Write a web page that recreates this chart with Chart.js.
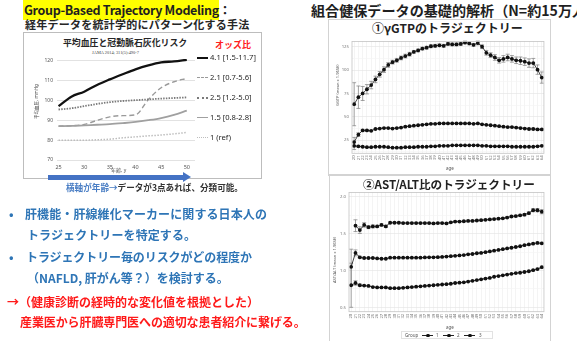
<!DOCTYPE html>
<html>
<head>
<meta charset="utf-8">
<script src="https://cdn.jsdelivr.net/npm/chart.js@4.4.1/dist/chart.umd.min.js"></script>
<style>
  html, body { margin: 0; padding: 0; }
  body { width: 577px; height: 341px; background: #fff; overflow: hidden; position: relative;
         font-family: "Noto Sans CJK JP", "Noto Sans", sans-serif; }
  .t { position: absolute; white-space: nowrap; line-height: 1; font-weight: bold; }
  .s { position: absolute; white-space: nowrap; line-height: 1; color: #555; font-family: "Noto Sans", "Noto Sans CJK JP", sans-serif; }
  .box { position: absolute; border: 1px solid #c9c9c9; box-sizing: border-box; }
  canvas { position: absolute; }
  .lg { position: absolute; height: 0; }
  .blue { color: #2e75b6; }
  .red { color: #ff1a1a; }
</style>
</head>
<body>

<!-- left: method heading -->
<div class="t" style="left:23px;top:4px;font-size:12.5px;color:#1f1f1f;">
  <span style="background:#ffff00;padding:1px 0 1px 1px;letter-spacing:-0.35px;">Group-Based Trajectory Modeling</span><span>：</span>
</div>
<div class="t" style="left:25px;top:19px;font-size:11px;letter-spacing:0.25px;color:#262626;">経年データを統計学的にパターン化する手法</div>

<!-- left: blood pressure figure frame -->
<div class="box" style="left:23px;top:32px;width:239px;height:147px;border-color:#bdbdbd;"></div>
<div class="t" style="left:63px;top:38.5px;font-size:8.9px;color:#262626;">平均血圧と冠動脈石灰化リスク</div>
<div class="s" style="left:92px;top:51px;font-size:4.4px;color:#444;font-family:'Liberation Serif',serif;">JAMA 2014; 311(5):490-7</div>
<div class="t" style="left:215px;top:40px;font-size:9px;color:#ff2020;">オッズ比</div>
<canvas id="bp" width="175" height="143" style="left:23px;top:32px;"></canvas>
<div class="s" style="left:34px;top:119px;font-size:4.5px;transform:rotate(-90deg);transform-origin:0 0;">平均血圧, mmHg</div>
<div class="s" style="left:111px;top:168px;font-size:5px;">年齢, y</div>

<!-- odds-ratio key -->
<div class="lg" style="left:197px;top:57px;width:11px;border-top:2.2px solid #111;"></div>
<div class="s" style="left:210px;top:54px;font-size:7.6px;color:#262626;">4.1 [1.5-11.7]</div>
<div class="lg" style="left:197px;top:77px;width:11px;border-top:1.5px dashed #9a9a9a;"></div>
<div class="s" style="left:210px;top:74px;font-size:7.6px;color:#262626;">2.1 [0.7-5.6]</div>
<div class="lg" style="left:197px;top:97px;width:11px;border-top:2px dotted #7a7a7a;"></div>
<div class="s" style="left:210px;top:94px;font-size:7.6px;color:#262626;">2.5 [1.2-5.0]</div>
<div class="lg" style="left:197px;top:117px;width:11px;border-top:1.8px solid #a0a0a0;"></div>
<div class="s" style="left:210px;top:114px;font-size:7.6px;color:#262626;">1.5 [0.8-2.8]</div>
<div class="lg" style="left:197px;top:137px;width:11px;border-top:1.5px dotted #bdbdbd;"></div>
<div class="s" style="left:210px;top:134px;font-size:7.6px;color:#262626;">1  (ref)</div>

<!-- age arrow -->
<div style="position:absolute;left:48px;top:174.5px;width:136px;height:5px;background:#4472c4;"></div>
<div style="position:absolute;left:183px;top:172px;width:0;height:0;border-top:5px solid transparent;border-bottom:5px solid transparent;border-left:8px solid #4472c4;"></div>
<div class="t" style="left:66px;top:183px;font-size:8.6px;color:#333;"><span style="color:#4a7ec4;">横軸が年齢→</span>データが3点あれば、分類可能。</div>

<!-- left: aims -->
<div class="t blue" style="left:9px;top:207.5px;font-size:12px;">•</div>
<div class="t blue" style="left:25px;top:207.5px;font-size:12px;letter-spacing:0.1px;">肝機能・肝線維化マーカーに関する日本人の</div>
<div class="t blue" style="left:27px;top:228.5px;font-size:12px;letter-spacing:0.1px;">トラジェクトリーを特定する。</div>
<div class="t blue" style="left:9px;top:250.5px;font-size:12px;">•</div>
<div class="t blue" style="left:26px;top:250.5px;font-size:12px;letter-spacing:-0.1px;">トラジェクトリー毎のリスクがどの程度か</div>
<div class="t blue" style="left:27px;top:271.5px;font-size:12px;">（NAFLD, 肝がん等？）を検討する。</div>
<div class="t red" style="left:7px;top:295.5px;font-size:12px;">→（健康診断の経時的な変化値を根拠とした）</div>
<div class="t red" style="left:20px;top:315.5px;font-size:12px;letter-spacing:-0.1px;">産業医から肝臓専門医への適切な患者紹介に繋げる。</div>

<!-- right: heading -->
<div class="t" style="left:311px;top:3px;font-size:14.1px;color:#1f1f1f;">組合健保データの基礎的解析（N=約15万人）</div>

<!-- right: γGTP panel -->
<div class="box" style="left:328px;top:19px;width:223px;height:157px;border-color:#d3d3d3;"></div>
<div class="t" style="left:372px;top:21.5px;font-size:12px;color:#222;">①γGTPのトラジェクトリー</div>
<canvas id="gtp" width="218" height="138" style="left:331px;top:36px;"></canvas>
<div class="s" style="left:336px;top:106px;font-size:4px;transform:rotate(-90deg);transform-origin:0 0;">GGTP (mean ± 1.96SE)</div>
<div class="s" style="left:446px;top:166px;font-size:4.5px;">age</div>

<!-- right: AST/ALT panel -->
<div class="box" style="left:329px;top:174px;width:222px;height:170px;border-color:#d3d3d3;"></div>
<div class="t" style="left:363px;top:179px;font-size:11.6px;color:#222;">②AST/ALT比のトラジェクトリー</div>
<canvas id="ast" width="218" height="137" style="left:331px;top:187px;"></canvas>
<div class="s" style="left:333px;top:283px;font-size:4px;transform:rotate(-90deg);transform-origin:0 0;">AST/ALT (mean ± 1.96SE)</div>
<div class="s" style="left:446px;top:325px;font-size:4.5px;">age</div>

<!-- group key -->
<div class="box" style="left:401px;top:331px;width:92px;height:8px;border-color:#e2e2e2;"></div>
<div class="s" style="left:405px;top:333px;font-size:4.5px;">Group</div>
<div class="lg" style="left:422px;top:335px;width:11px;border-top:0.8px solid #222;"></div>
<div style="position:absolute;left:426px;top:333.5px;width:3.5px;height:3.5px;border-radius:50%;background:#111;"></div>
<div class="s" style="left:436px;top:333px;font-size:4.5px;">1</div>
<div class="lg" style="left:443px;top:335px;width:11px;border-top:0.8px solid #222;"></div>
<div style="position:absolute;left:447px;top:333.5px;width:3.5px;height:3.5px;border-radius:50%;background:#111;"></div>
<div class="s" style="left:457px;top:333px;font-size:4.5px;">2</div>
<div class="lg" style="left:464px;top:335px;width:11px;border-top:0.8px solid #222;"></div>
<div style="position:absolute;left:468px;top:333.5px;width:3.5px;height:3.5px;border-radius:50%;background:#111;"></div>
<div class="s" style="left:479px;top:333px;font-size:4.5px;">3</div>

<script>
// ---- mean blood pressure trajectories by age (JAMA 2014) ----
const bpAges = [25, 27.5, 30, 32.5, 35, 37.5, 40, 42.5, 45, 47.5, 50];
const bpAgeTicks = [25, 30, 35, 40, 45, 50];
const bpTicks = [70, 80, 90, 100, 110, 120];
const bpHighRising = [97.2, 102.0, 104.5, 107.9, 110.7, 113.3, 115.8, 117.8, 119.3, 119.8, 120.6];
const bpLateRising = [87.1, 87.3, 88.0, 90.0, 91.8, 92.4, 92.8, 100.5, 106.5, 109.5, 111.2];
const bpHighStable = [95.5, 96.1, 97.2, 98.3, 99.2, 99.8, 100.2, 100.6, 101.0, 101.3, 101.6];
const bpModerate   = [87.1, 87.2, 87.5, 87.8, 88.1, 88.6, 89.2, 90.1, 91.2, 92.8, 94.9];
const bpLowStable  = [80.0, 80.0, 80.0, 80.2, 80.5, 81.2, 81.7, 82.2, 82.6, 83.2, 83.9];

// ---- health-insurance cohort: age categories ----
const ageLabels = ['20','21','22','23','24','25','26','27','28','29','30','31','32','33','34',
  '35','36','37','38','39','40','41','42','43','44','45','46','47','48','49',
  '50','51','52','53','54','55','56','57','58','59','60','61','62','63','64'];

// γGTP mean by group, with 1.96 SE half-widths
const gtpTicks = [25, 50, 75, 100, 125];
const gtpGroup1 = [19, 18.5, 18, 17.5, 17.5, 18, 18, 18, 17.5, 17, 17, 17, 17.5, 17.5, 17.5,
  18, 18, 18, 18.5, 18.5, 19, 19, 19, 19.5, 19.5, 19.5, 19.5, 19.5, 19.5, 19.5,
  19, 19, 18.5, 18.5, 18.5, 18.5, 18.5, 18, 18, 18, 18, 18, 18, 18.5, 19];
const gtpErr1 = [4, 1, 0.6, 0.4, 0.3, 0.3, 0.3, 0.3, 0.3, 0.3, 0.3, 0.3, 0.3, 0.3, 0.3,
  0.3, 0.3, 0.3, 0.3, 0.3, 0.3, 0.3, 0.3, 0.3, 0.3, 0.3, 0.3, 0.3, 0.3, 0.3,
  0.3, 0.3, 0.3, 0.3, 0.3, 0.3, 0.3, 0.3, 0.3, 0.3, 0.4, 0.4, 0.4, 0.5, 0.6];
const gtpGroup2 = [23, 31, 35.5, 35.5, 35, 37, 37.5, 38, 38, 37.5, 38, 38.5, 39.5, 40, 40.5,
  41, 41.5, 42, 42.5, 42.5, 43, 43, 43, 43, 43, 43, 43, 43, 42.5, 43,
  42, 41.5, 41, 40.5, 40, 39.5, 39, 39, 38.5, 38, 37.5, 37, 37, 36.5, 36.5];
const gtpErr2 = [5, 2, 1, 0.8, 0.6, 0.5, 0.5, 0.5, 0.5, 0.5, 0.5, 0.5, 0.5, 0.5, 0.5,
  0.5, 0.5, 0.5, 0.5, 0.5, 0.5, 0.5, 0.5, 0.5, 0.5, 0.5, 0.5, 0.5, 0.5, 0.5,
  0.5, 0.5, 0.5, 0.5, 0.5, 0.5, 0.6, 0.6, 0.6, 0.7, 0.7, 0.8, 0.8, 0.9, 1];
const gtpGroup3 = [63.5, 71, 75, 79.5, 84, 90, 95.5, 100.5, 105.5, 108.5, 110.5, 113, 115, 117, 119.5,
  121, 123, 124, 125.5, 126, 126.5, 126, 128, 127.5, 127.5, 128, 129.5, 128.5, 127, 129,
  125, 118.5, 116, 113.5, 110.5, 112, 113.5, 112, 110.5, 110, 109, 107.5, 107.5, 100.5, 92];
const gtpErr3 = [23, 12, 7.5, 5, 4, 3.5, 3, 3, 2.5, 2, 2, 2, 2, 2, 1.5,
  1.5, 1.5, 1.5, 1.5, 1.5, 1.5, 1.5, 1.5, 1.5, 1.5, 1.5, 1.5, 1.5, 1.5, 2,
  2, 2.5, 2.5, 3, 3, 3.5, 3.5, 3.5, 3.5, 4, 4, 4.5, 5, 5, 6];

// AST/ALT ratio mean by group, with 1.96 SE half-widths
const astTicks = [0.5, 1.0, 1.5, 2.0];
const astGroup1 = [0.80, 0.83, 0.80, 0.795, 0.79, 0.775, 0.77, 0.77, 0.77, 0.76, 0.76, 0.76, 0.765, 0.77, 0.775,
  0.78, 0.785, 0.79, 0.795, 0.80, 0.805, 0.81, 0.815, 0.82, 0.83, 0.835, 0.84, 0.85, 0.86, 0.87,
  0.88, 0.89, 0.90, 0.915, 0.925, 0.935, 0.945, 0.955, 0.965, 0.97, 0.98, 0.99, 1.005, 1.02, 1.045];
const astErr1 = [0.30, 0.03, 0.015, 0.01, 0.008, 0.006, 0.005, 0.005, 0.005, 0.005, 0.005, 0.005, 0.005, 0.005, 0.005,
  0.005, 0.005, 0.005, 0.005, 0.005, 0.005, 0.005, 0.005, 0.005, 0.005, 0.005, 0.005, 0.005, 0.005, 0.005,
  0.005, 0.005, 0.005, 0.005, 0.005, 0.005, 0.005, 0.005, 0.006, 0.006, 0.007, 0.008, 0.009, 0.01, 0.012];
const astGroup2 = [1.05, 1.24, 1.18, 1.17, 1.17, 1.17, 1.165, 1.16, 1.16, 1.175, 1.175, 1.175, 1.175, 1.175, 1.175,
  1.175, 1.175, 1.178, 1.18, 1.18, 1.182, 1.185, 1.19, 1.195, 1.20, 1.205, 1.21, 1.22, 1.225, 1.235,
  1.24, 1.25, 1.26, 1.27, 1.28, 1.29, 1.30, 1.31, 1.32, 1.33, 1.345, 1.355, 1.365, 1.375, 1.37];
const astErr2 = [0.24, 0.04, 0.015, 0.01, 0.008, 0.006, 0.005, 0.005, 0.005, 0.005, 0.005, 0.005, 0.005, 0.005, 0.005,
  0.005, 0.005, 0.005, 0.005, 0.005, 0.005, 0.005, 0.005, 0.005, 0.005, 0.005, 0.005, 0.005, 0.005, 0.005,
  0.005, 0.005, 0.005, 0.005, 0.005, 0.005, 0.005, 0.006, 0.006, 0.007, 0.008, 0.009, 0.01, 0.012, 0.014];
const astGroup3 = [null, 1.61, 1.55, 1.62, 1.59, 1.60, 1.60, 1.62, 1.60, 1.65, 1.65, 1.65, 1.645, 1.645, 1.645,
  1.645, 1.645, 1.645, 1.645, 1.64, 1.645, 1.645, 1.64, 1.655, 1.665, 1.665, 1.67, 1.675, 1.675, 1.68,
  1.685, 1.69, 1.695, 1.70, 1.705, 1.71, 1.72, 1.735, 1.74, 1.75, 1.76, 1.78, 1.82, 1.82, 1.80];
const astErr3 = [0, 0.08, 0.045, 0.03, 0.02, 0.02, 0.015, 0.015, 0.015, 0.012, 0.01, 0.01, 0.01, 0.01, 0.01,
  0.01, 0.01, 0.01, 0.01, 0.01, 0.01, 0.01, 0.01, 0.01, 0.01, 0.01, 0.01, 0.01, 0.01, 0.01,
  0.01, 0.01, 0.01, 0.01, 0.01, 0.01, 0.012, 0.012, 0.012, 0.014, 0.015, 0.016, 0.02, 0.022, 0.028];

// error bars drawn under the points, through the y scale
const errorBars = {
  id: 'errorBars',
  beforeDatasetsDraw(chart) {
    const { ctx } = chart;
    const ys = chart.scales.y;
    chart.data.datasets.forEach((ds, i) => {
      if (!ds.errors) return;
      const meta = chart.getDatasetMeta(i);
      ctx.save();
      ctx.strokeStyle = '#7d7d7d';
      ctx.lineWidth = 0.7;
      meta.data.forEach((pt, j) => {
        const v = ds.data[j], e = ds.errors[j];
        if (v == null || !e) return;
        const top = ys.getPixelForValue(v + e);
        const bot = ys.getPixelForValue(v - e);
        const x = pt.x;
        ctx.beginPath();
        ctx.moveTo(x, top); ctx.lineTo(x, bot);
        ctx.moveTo(x - 2, top); ctx.lineTo(x + 2, top);
        ctx.moveTo(x - 2, bot); ctx.lineTo(x + 2, bot);
        ctx.stroke();
      });
      ctx.restore();
    });
  }
};

// thin frame round the plotting panel
const panelFrame = {
  id: 'panelFrame',
  afterDraw(chart) {
    const { ctx, chartArea: a } = chart;
    ctx.save();
    ctx.strokeStyle = '#c4c4c4';
    ctx.lineWidth = 0.8;
    ctx.strokeRect(a.left, a.top, a.right - a.left, a.bottom - a.top);
    ctx.restore();
  }
};

const pairs = (xs, ys) => xs.map((x, i) => ({ x, y: ys[i] }));

// mean blood pressure chart
new Chart(document.getElementById('bp'), {
  type: 'line',
  data: {
    datasets: [
      { data: pairs(bpAges, bpLowStable), borderColor: '#bdbdbd', borderWidth: 1.5, borderDash: [1.5, 1.5] },
      { data: pairs(bpAges, bpModerate), borderColor: '#a0a0a0', borderWidth: 1.8 },
      { data: pairs(bpAges, bpHighStable), borderColor: '#7a7a7a', borderWidth: 1.8, borderDash: [1.5, 1.2] },
      { data: pairs(bpAges, bpLateRising), borderColor: '#9a9a9a', borderWidth: 1.4, borderDash: [5, 3] },
      { data: pairs(bpAges, bpHighRising), borderColor: '#111', borderWidth: 2.3 }
    ]
  },
  options: {
    responsive: false, animation: false, events: [],
    layout: { padding: { top: 27, right: 3, left: 0, bottom: 0 } },
    elements: { point: { radius: 0 }, line: { cubicInterpolationMode: 'monotone' } },
    plugins: { legend: { display: false }, tooltip: { enabled: false } },
    scales: {
      x: {
        type: 'linear', min: 24.7, max: 51.6,
        afterBuildTicks: s => { s.ticks = bpAgeTicks.map(v => ({ value: v })); },
        afterFit: s => { s.height = 15; },
        grid: { display: false, drawTicks: false }, border: { display: false },
        ticks: { color: '#555', font: { size: 5.5, family: 'Noto Sans' }, padding: 4, maxRotation: 0 }
      },
      y: {
        min: 70, max: 121,
        afterBuildTicks: s => { s.ticks = bpTicks.map(v => ({ value: v })); },
        afterFit: s => { s.width = 34; },
        grid: { color: '#dadada', lineWidth: 0.8, drawTicks: false }, border: { display: false },
        ticks: { color: '#555', font: { size: 5, family: 'Noto Sans' }, padding: 4 }
      }
    }
  }
});

function trajectoryChart(id, groups, errs, yMin, yMax, majors, yWidth, xHeight, fmt) {
  const minors = [];
  for (let i = 0; i < majors.length; i++) {
    minors.push(majors[i]);
    if (i < majors.length - 1) minors.push((majors[i] + majors[i + 1]) / 2);
  }
  minors.unshift(majors[0] - (majors[1] - majors[0]) / 2);
  return new Chart(document.getElementById(id), {
    type: 'line',
    data: {
      labels: ageLabels,
      datasets: groups.map((g, i) => ({
        data: g, errors: errs[i],
        borderColor: '#111', borderWidth: 0.8,
        pointRadius: 1.9, pointBackgroundColor: '#111', pointBorderWidth: 0,
        spanGaps: false
      }))
    },
    options: {
      responsive: false, animation: false, events: [],
      layout: { padding: { top: 4, right: 2, left: 0, bottom: 0 } },
      plugins: { legend: { display: false }, tooltip: { enabled: false } },
      scales: {
        x: {
          type: 'category', offset: true,
          afterFit: s => { s.height = xHeight; },
          grid: { offset: false, color: '#ececec', lineWidth: 0.6, drawTicks: false },
          border: { display: false },
          ticks: { autoSkip: false, minRotation: 90, maxRotation: 90, color: '#777',
                   font: { size: 4.3, family: 'Noto Sans' }, padding: 2 }
        },
        y: {
          min: yMin, max: yMax,
          afterBuildTicks: s => { s.ticks = minors.filter(v => v > yMin && v < yMax).map(v => ({ value: v })); },
          afterFit: s => { s.width = yWidth; },
          grid: {
            color: c => majors.includes(c.tick && c.tick.value) ? '#e3e3e3' : '#f3f3f3',
            lineWidth: 0.6, drawTicks: false
          },
          border: { display: false },
          ticks: {
            color: '#777', font: { size: 4.3, family: 'Noto Sans' }, padding: 3,
            callback: v => majors.includes(v) ? fmt(v) : ''
          }
        }
      }
    },
    plugins: [errorBars, panelFrame]
  });
}

trajectoryChart('gtp', [gtpGroup1, gtpGroup2, gtpGroup3], [gtpErr1, gtpErr2, gtpErr3],
  11, 130.5, gtpTicks, 21, 20.7, v => String(v));
trajectoryChart('ast', [astGroup1, astGroup2, astGroup3], [astErr1, astErr2, astErr3],
  0.44, 2.06, astTicks, 18, 12.3, v => v.toFixed(1));
</script>
</body>
</html>
